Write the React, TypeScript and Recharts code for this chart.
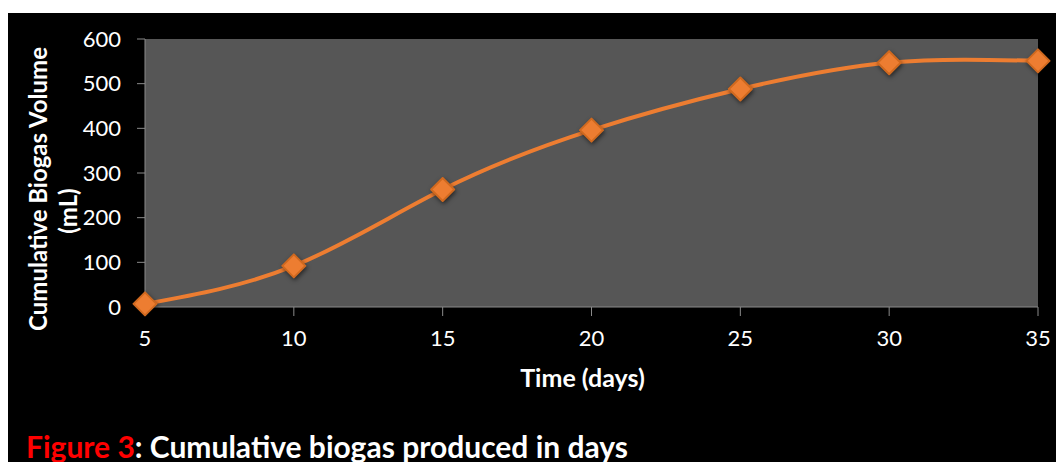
import { CartesianGrid, Label, Line, LineChart, XAxis, YAxis } from "recharts";

// days since start
const days = [5, 10, 15, 20, 25, 30, 35];
// cumulative biogas volume (mL)
const volume = [7, 92, 263, 396, 488, 547, 551];
const yTicks = [0, 100, 200, 300, 400, 500, 600];

const data = days.map((d, i) => ({ day: d, volume: volume[i] }));

const FONT = "Lato, 'Open Sans', sans-serif";

const Diamond = (props: any) => {
	const { cx, cy, key } = props;
	if (cx == null || cy == null) return null;
	const r = 11.5;
	return (
		<path
			key={key}
			d={`M${cx},${cy - r}L${cx + r},${cy}L${cx},${cy + r}L${cx - r},${cy}Z`}
			fill="#ED7D31"
			stroke="#D0691F"
			strokeWidth={2}
			strokeLinejoin="round"
			style={{ filter: "drop-shadow(1px 2px 2px rgba(0,0,0,0.55))" }}
		/>
	);
};

const YTitle = ({ viewBox }: any) => {
	const { x, y, height } = viewBox;
	const mid = y + height / 2;
	return (
		<g fill="#fff" fontFamily={FONT} fontWeight={700} fontSize={24}>
			<text
				x={x + 29}
				y={mid + 16}
				textAnchor="middle"
				dominantBaseline="central"
				transform={`rotate(-90 ${x + 29} ${mid + 16})`}
			>
				Cumulative Biogas Volume
			</text>
			<text
				x={x + 59}
				y={mid + 38}
				textAnchor="middle"
				dominantBaseline="central"
				transform={`rotate(-90 ${x + 59} ${mid + 38})`}
			>
				(mL)
			</text>
		</g>
	);
};

export default function App() {
	return (
		<div
			style={{
				position: "relative",
				marginTop: 5,
				width: 1056,
				height: 449,
				background: "#000",
				fontFamily: FONT,
			}}
		>
			<LineChart
				width={1056}
				height={449}
				data={data}
				margin={{ top: 26, right: 26, left: 0, bottom: 115 }}
			>
				<CartesianGrid
					horizontal={false}
					vertical={false}
					fill="#565656"
					fillOpacity={1}
				/>
				<XAxis
					dataKey="day"
					type="number"
					domain={[5, 35]}
					ticks={days}
					height={40}
					tickSize={9}
					tickMargin={14}
					stroke="#8a8a8a"
					tick={{ fill: "#fff", fontSize: 22, fontFamily: FONT }}
				>
					<Label
						value="Time (days)"
						position="insideBottom"
						offset={-40}
						dx={-9}
						fill="#fff"
						fontSize={25}
						fontWeight={700}
						fontFamily={FONT}
					/>
				</XAxis>
				<YAxis
					domain={[0, 600]}
					ticks={yTicks}
					width={137}
					tickSize={8}
					tickMargin={16}
					stroke="#8a8a8a"
					tick={{ fill: "#fff", fontSize: 22, fontFamily: FONT }}
				>
					<Label content={<YTitle />} />
				</YAxis>
				<Line
					type="natural"
					dataKey="volume"
					stroke="#ED7D31"
					strokeWidth={4}
					dot={<Diamond />}
					activeDot={false}
					isAnimationActive={false}
				/>
			</LineChart>
			<div
				style={{
					position: "absolute",
					left: 18,
					top: 418,
					fontSize: 30,
					fontWeight: 700,
					color: "#fff",
					whiteSpace: "nowrap",
					lineHeight: 1,
				}}
			>
				<span style={{ color: "#ff0000" }}>Figure 3</span>: Cumulative biogas
				produced in days
			</div>
		</div>
	);
}
